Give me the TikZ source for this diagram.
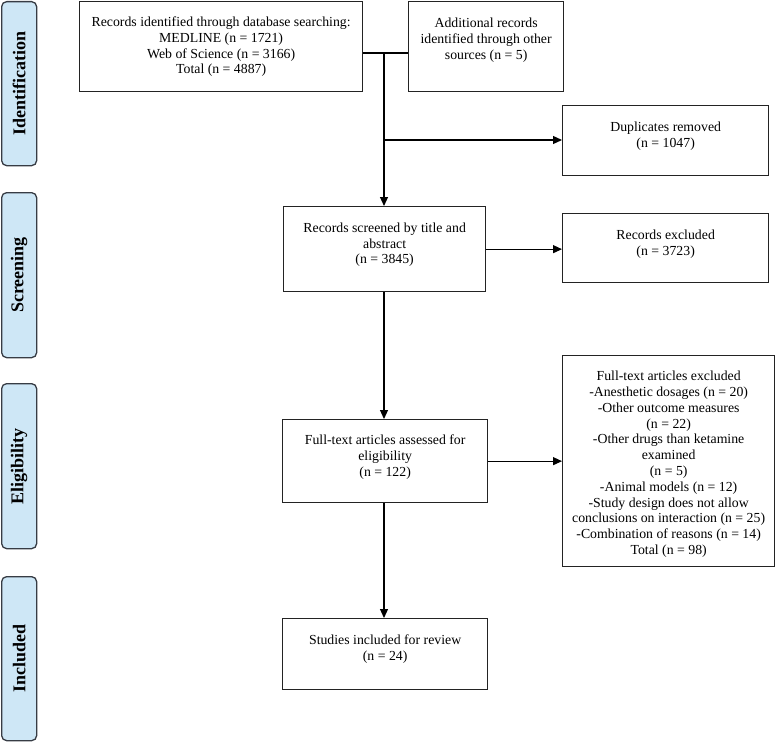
\documentclass[tikz,border=0pt]{standalone}
\usepackage{fontspec}
\setmainfont{Liberation Serif}
\usetikzlibrary{arrows.meta}
\definecolor{sidefill}{RGB}{206,231,246}
\definecolor{sidedraw}{RGB}{55,60,68}
\definecolor{boxdraw}{RGB}{35,35,35}
\tikzset{
  side/.style={draw=sidedraw, fill=sidefill, line width=1.3pt, rounded corners=5pt,
    minimum width=35pt, inner sep=0pt},
  sidetext/.style={rotate=90, font=\fontsize{18}{20}\selectfont\bfseries, inner sep=0pt},
  flowbox/.style={draw=boxdraw, line width=1.3pt, inner sep=0pt},
  boxtext/.style={align=center, anchor=north, inner sep=0pt,
    font=\fontsize{13.8}{15.8}\selectfont, execute at begin node=\strut},
  conn/.style={line width=1.2pt, draw=black},
  arr/.style={conn, -{Triangle[length=9pt,width=8pt]}},
}
\newcommand{\flowrect}[5]{% name, x1, y1, x2, y2
  \node[flowbox, minimum width={#4-#2}, minimum height={#5-#3}, anchor=north west] (#1) at (#2,-#3) {};}
\begin{document}
\begin{tikzpicture}[x=1pt,y=1pt]
\useasboundingbox (0,0) rectangle (778,-741);
% side labels
\node[side, minimum height=164pt, anchor=north west] (sid) at (1,-1) {};
\node[sidetext] (tid) at (sid.center) {Identification};
\node[side, minimum height=165pt, anchor=north west] (ssc) at (1,-192) {};
\node[sidetext] (tsc) at (ssc.center) {Screening};
\node[side, minimum height=165pt, anchor=north west] (sel) at (1,-383) {};
\node[sidetext] (tel) at (sel.center) {Eligibility};
\node[side, minimum height=164pt, anchor=north west] (sin) at (1,-576) {};
\node[sidetext] (tin) at (sin.center) {Included};
% boxes
\flowrect{b1}{79}{1}{362}{91}
\flowrect{b2}{408}{1}{563}{91}
\flowrect{dup}{562}{105}{768}{175}
\flowrect{scr}{283}{206}{485}{291}
\flowrect{exc}{562}{213}{768}{282}
\flowrect{elig}{282}{419}{487}{502}
\flowrect{ftex}{562}{355}{774}{566}
\flowrect{inc}{282}{618}{487}{689}
% texts
\node[boxtext] (t1) at ([yshift=-15.5pt]b1.north) {Records identified through database searching:\\MEDLINE (n = 1721)\\Web of Science (n = 3166)\\Total (n = 4887)};
\node[boxtext] (t2) at ([yshift=-17pt]b2.north) {Additional records\\identified through other\\sources (n = 5)};
\node[boxtext] (t3) at ([yshift=-16.5pt]dup.north) {Duplicates removed\\(n = 1047)};
\node[boxtext] (t4) at ([yshift=-16.5pt]scr.north) {Records screened by title and\\abstract\\(n = 3845)};
\node[boxtext] (t5) at ([yshift=-16.5pt]exc.north) {Records excluded\\(n = 3723)};
\node[boxtext] (t6) at ([yshift=-16pt]elig.north) {Full-text articles assessed for\\eligibility\\(n = 122)};
\node[boxtext] (t7) at ([yshift=-16pt]ftex.north) {Full-text articles excluded\\-Anesthetic dosages (n = 20)\\-Other outcome measures\\(n = 22)\\-Other drugs than ketamine\\examined\\(n = 5)\\-Animal models (n = 12)\\-Study design does not allow\\conclusions on interaction (n = 25)\\-Combination of reasons (n = 14)\\Total (n = 98)};
\node[boxtext] (t8) at ([yshift=-16.5pt]inc.north) {Studies included for review\\(n = 24)};
% connectors
\coordinate (j) at (384,-53);
\coordinate (k) at (384,-140);
\draw[conn] (b1.east |- j) -- (b2.west |- j);
\draw[arr] (j) -- (j |- scr.north);
\draw[arr] (k) -- (dup.west |- k);
\draw[arr] (scr.east) -- (exc.west |- scr.east);
\draw[arr] (scr.south -| j) -- (elig.north -| j);
\draw[arr] (elig.east) -- (ftex.west |- elig.east);
\draw[arr] (elig.south -| j) -- (inc.north -| j);
\end{tikzpicture}
\end{document}
